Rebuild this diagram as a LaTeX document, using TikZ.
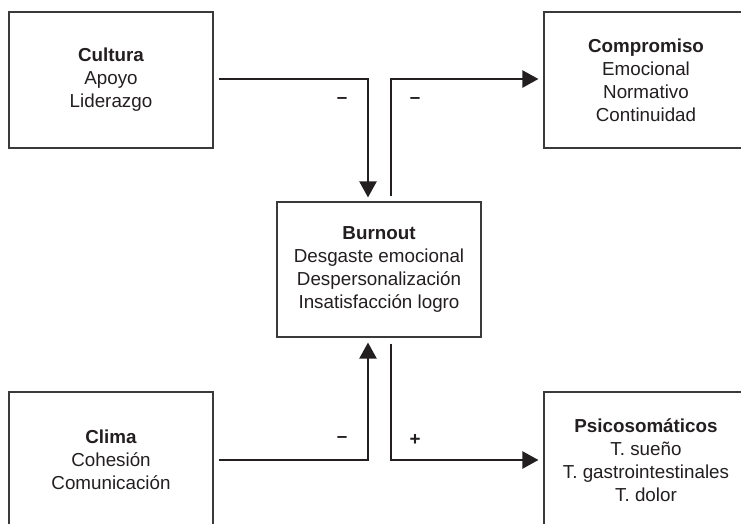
\documentclass[tikz,border=0pt]{standalone}
\usepackage{fontspec}
\setmainfont{Liberation Sans}
\usetikzlibrary{arrows.meta,calc}
\definecolor{boxgray}{HTML}{3A3A3A}
\definecolor{txt}{HTML}{231F20}
\begin{document}
\begin{tikzpicture}[x=1pt,y=-1pt,
  box/.style={draw=boxgray, line width=1.1pt, minimum width=204pt, minimum height=136pt,
    align=center, inner sep=0pt, text=txt, font=\fontsize{18.8}{23}\selectfont},
  arr/.style={draw=txt, line width=2.2pt, -{Triangle[width=17pt,length=16pt]}},
  sign/.style={text=txt, inner sep=0pt, font=\fontsize{18.8}{23}\selectfont\bfseries}]
\useasboundingbox (0,0) rectangle (741,523);
\fill[white] (0,0) rectangle (741,523);

\node[box] (cultura) at (111,80) {\textbf{Cultura}\\Apoyo\\Liderazgo};
\node[box] (compromiso) at (646,80) {\textbf{Compromiso}\\Emocional\\Normativo\\Continuidad};
\node[box, minimum height=135pt] (burnout) at (379,269.5) {\textbf{Burnout}\\Desgaste emocional\\Despersonalización\\Insatisfacción logro};
\node[box] (clima) at (111,460) {\textbf{Clima}\\Cohesión\\Comunicación};
\node[box] (psico) at (646,460) {\textbf{Psicosomáticos}\\T. sueño\\T. gastrointestinales\\T. dolor};

\draw[arr] ([xshift=5pt,yshift=1pt]cultura.east) -| ([xshift=-11pt,yshift=4pt]burnout.north);
\draw[arr] ([xshift=12pt,yshift=5pt]burnout.north) |- ([xshift=-5pt,yshift=1pt]compromiso.west);
\draw[arr] ([xshift=5pt]clima.east) -| ([xshift=-11pt,yshift=-5pt]burnout.south);
\draw[arr] ([xshift=12pt,yshift=-6pt]burnout.south) |- ([xshift=-5pt]psico.west);

\node[sign] (s1) at (342,101) {–};
\node[sign] (s2) at (415,101) {–};
\node[sign] (s3) at (342,440) {–};
\node[sign] (s4) at (415,440) {+};
\end{tikzpicture}
\end{document}
